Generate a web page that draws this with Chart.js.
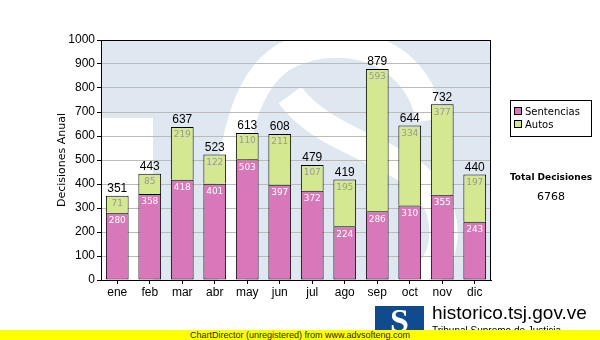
<!DOCTYPE html>
<html>
<head>
<meta charset="utf-8">
<script src="https://cdn.jsdelivr.net/npm/chart.js@4"></script>
<style>
  body { margin: 0; background: #fff; }
  #wrap { position: relative; width: 600px; height: 340px; overflow: hidden; font-family: "Liberation Sans", Arial, sans-serif; }
  #graf { position: absolute; left: 0; top: 0; }
  #leyenda { position: absolute; left: 510px; top: 100px; width: 82px; height: 37px; border: 1px solid #000; box-sizing: border-box; font: 10px "DejaVu Sans", sans-serif; padding: 4px 0 0 3px; line-height: 13px; }
  #leyenda span.caja { display: inline-block; width: 6px; height: 6px; border: 1px solid #000; margin-right: 3px; vertical-align: 0px; }
  #total { position: absolute; left: 505px; top: 172px; width: 92px; text-align: center; font: bold 9px "DejaVu Sans", sans-serif; }
  #totalNum { position: absolute; left: 505px; top: 190px; width: 92px; text-align: center; font: 11px "DejaVu Sans", sans-serif; }
  #logo { position: absolute; left: 375px; top: 306px; width: 49px; height: 30px; background: #0f4c8f; color: #fff; font: bold 34px "Liberation Serif", serif; text-align: center; line-height: 30px; }
  #sitio { position: absolute; left: 432px; top: 302px; font: 19px "Liberation Sans", Arial, sans-serif; color: #000; }
  #sub { position: absolute; left: 432px; top: 325px; font: 10px "Liberation Sans", Arial, sans-serif; color: #000; }
  #pie { position: absolute; left: 0; top: 330px; width: 600px; height: 10px; background: #ffff00; font: 9px "Liberation Sans", Arial, sans-serif; text-align: center; line-height: 10px; color: #222; }
</style>
</head>
<body>
<div id="wrap">
  <canvas id="graf" width="600" height="340"></canvas>
  <div id="leyenda">
    <div><span class="caja" style="background:#d877b9"></span>Sentencias</div>
    <div><span class="caja" style="background:#d3e891"></span>Autos</div>
  </div>
  <div id="total">Total Decisiones</div>
  <div id="totalNum">6768</div>
  <div id="logo">S</div>
  <div id="sitio">historico.tsj.gov.ve</div>
  <div id="sub">Tribunal Supremo de Justicia</div>
  <div id="pie">ChartDirector (unregistered) from www.advsofteng.com</div>
</div>
<script>
const meses = ['ene','feb','mar','abr','may','jun','jul','ago','sep','oct','nov','dic']
const sentencias = [280,358,418,401,503,397,372,224,286,310,355,243]
const autos = [71,85,219,122,110,211,107,195,593,334,377,197]
const yTicks = [0,100,200,300,400,500,600,700,800,900,1000]

const graf = document.getElementById("graf")

// marca de agua TS detras de las barras
const marcaAgua = {
    id: 'marcaAgua',
    beforeDraw(chart) {
        const {ctx, chartArea: a} = chart
        ctx.save()
        ctx.beginPath()
        ctx.rect(a.left, a.top, a.width, a.height)
        ctx.clip()
        ctx.fillStyle = '#dfe8f1'
        ctx.fillRect(a.left, a.top, a.width, a.height)
        ctx.fillStyle = '#fff'
        ctx.fillRect(a.left, a.top + 78, 52, a.height)
        ctx.strokeStyle = '#fff'
        ctx.lineWidth = 28
        ctx.lineCap = 'butt'
        ctx.beginPath()
        ctx.moveTo(233, 290)
        ctx.bezierCurveTo(222, 200, 230, 70, 300, 50)
        ctx.bezierCurveTo(360, 30, 420, 60, 430, 120)
        ctx.stroke()
        ctx.beginPath()
        ctx.moveTo(290, 95)
        ctx.bezierCurveTo(330, 150, 420, 150, 440, 210)
        ctx.bezierCurveTo(455, 260, 420, 290, 380, 300)
        ctx.stroke()
        ctx.restore()
    }
}

// totales y valores dentro de cada segmento
const etiquetas = {
    id: 'etiquetas',
    afterDatasetsDraw(chart) {
        const {ctx} = chart
        ctx.save()
        ctx.textAlign = 'center'
        ctx.textBaseline = 'middle'
        ctx.font = '9px "DejaVu Sans"'
        chart.data.datasets.forEach((ds, i) => {
            chart.getDatasetMeta(i).data.forEach((bar, j) => {
                ctx.fillStyle = i === 0 ? '#ffffff' : '#999999'
                ctx.fillText(ds.data[j], bar.x, bar.y + 8)
            })
        })
        ctx.font = '12px "Liberation Sans"'
        ctx.fillStyle = '#000'
        ctx.textBaseline = 'bottom'
        chart.getDatasetMeta(1).data.forEach((bar, j) => {
            ctx.fillText(sentencias[j] + autos[j], bar.x, bar.y - 1)
        })
        // borde del area
        const a = chart.chartArea
        ctx.strokeStyle = '#000'
        ctx.lineWidth = 1
        ctx.strokeRect(a.left + 0.5, a.top + 0.5, a.width - 1, a.height)
        ctx.restore()
    }
}

new Chart(graf, {
    type: 'bar',
    data: {
        labels: meses,
        datasets: [{
            label: 'Sentencias',
            data: sentencias,
            backgroundColor: '#d877b9',
            borderColor: '#000',
            borderWidth: 1,
            borderSkipped: false
        }, {
            label: 'Autos',
            data: autos,
            backgroundColor: '#d3e891',
            borderColor: '#000',
            borderWidth: 1,
            borderSkipped: 'bottom'
        }]
    },
    options: {
        responsive: false,
        animation: false,
        barPercentage: 0.7,
        categoryPercentage: 1,
        layout: { padding: { left: 56, top: 40, right: 109, bottom: 40 } },
        plugins: {
            legend: { display: false },
            tooltip: { enabled: false }
        },
        scales: {
            x: {
                stacked: true,
                grid: { display: true, drawOnChartArea: false, offset: false, color: '#000', tickLength: 4 },
                border: { color: '#000' },
                ticks: { color: '#000', font: { size: 12, family: 'Liberation Sans' }, padding: 1 },
                afterFit(s) { s.height = 20 }
            },
            y: {
                stacked: true,
                min: 0,
                max: 1000,
                afterBuildTicks(s) { s.ticks = yTicks.map(v => ({ value: v })) },
                grid: { color: '#bbbbbb', tickLength: 4, tickColor: '#000' },
                border: { color: '#000' },
                ticks: { color: '#000', font: { size: 12, family: 'Liberation Sans' }, padding: 2, callback: v => String(v) },
                title: { display: true, text: 'Decisiones Anual', color: '#000', font: { size: 11, family: 'DejaVu Sans' }, padding: 0 },
                afterFit(s) { s.width = 45 }
            }
        }
    },
    plugins: [marcaAgua, etiquetas]
})
</script>
</body>
</html>
